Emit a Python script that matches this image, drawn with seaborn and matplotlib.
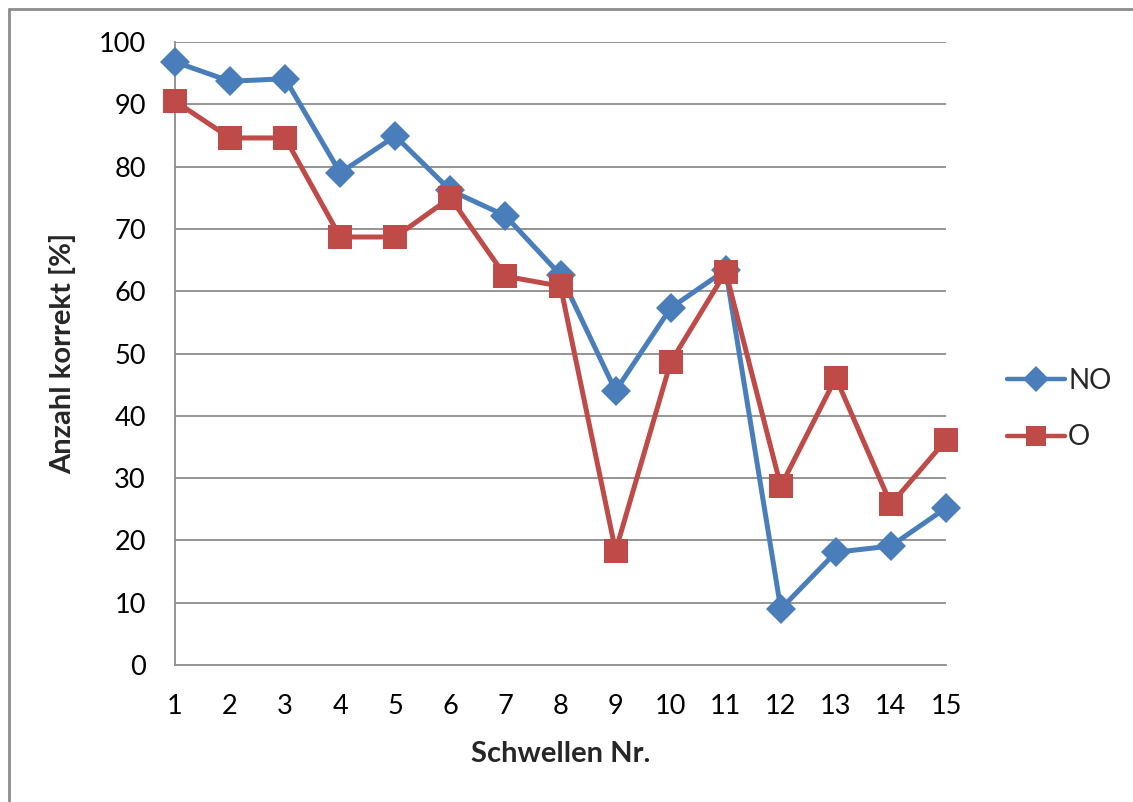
import matplotlib
matplotlib.use("Agg")
import matplotlib.pyplot as plt
import seaborn as sns
import pandas as pd
from matplotlib.lines import Line2D

schwellen = list(range(1, 16))
no_values = [96.8, 93.7, 94.1, 79.0, 84.9, 76.2, 72.1, 62.6, 44.0, 57.3, 63.4, 9.0, 18.1, 19.1, 25.2]
o_values = [90.5, 84.6, 84.6, 68.7, 68.7, 75.0, 62.4, 60.8, 18.3, 48.6, 63.1, 28.7, 46.1, 25.8, 36.1]
series_names = ["NO", "O"]
y_ticks = [0, 10, 20, 30, 40, 50, 60, 70, 80, 90, 100]

df = pd.DataFrame({
    "Schwelle": schwellen * 2,
    "Wert": no_values + o_values,
    "Serie": [series_names[0]] * len(schwellen) + [series_names[1]] * len(schwellen),
})

sns.set_theme(style="white")
plt.rcParams["font.family"] = ["Lato", "DejaVu Sans"]

W, H = 1133, 802
fig = plt.figure(figsize=(W / 100, H / 100), dpi=100)
ax = fig.add_axes([175 / W, 1 - 665 / H, (946 - 175) / W, (665 - 42) / H])

palette = {"NO": "#4A7EBB", "O": "#BE4B48"}
markers = {"NO": "D", "O": "s"}
msize = {"D": 15.5, "s": 17}
sns.lineplot(data=df, x="Schwelle", y="Wert", hue="Serie", style="Serie",
             palette=palette, markers=markers, dashes=False, linewidth=3.6,
             markersize=15, markeredgewidth=0, ax=ax, legend=False, zorder=3)
for ln in ax.lines:
    ln.set_clip_on(False)
    m = ln.get_marker()
    if m in msize:
        ln.set_markersize(msize[m])

ax.set_xlim(1, 15)
ax.set_ylim(0, 100)
ax.set_yticks(y_ticks)
ax.set_xticks(schwellen)
ax.set_xticklabels([str(s) for s in schwellen])
grid_c = "#8C8C8C"
for yv in y_ticks[1:]:
    ax.axhline(yv, color=grid_c, lw=1.3, zorder=1)
for side in ["top", "right"]:
    ax.spines[side].set_visible(False)
ax.spines["left"].set_color(grid_c)
ax.spines["bottom"].set_color(grid_c)
ax.spines["left"].set_linewidth(1.3)
ax.spines["bottom"].set_linewidth(1.3)
ax.tick_params(axis="both", which="both", direction="out", length=9, width=1.3,
               color=grid_c, labelsize=19.5, labelcolor="black")
ax.tick_params(axis="x", pad=12)
ax.tick_params(axis="y", pad=12)
ax.set_xlabel("Schwellen Nr.", fontsize=21, fontweight="bold", labelpad=16)
ax.set_ylabel("Anzahl korrekt [%]", fontsize=21, fontweight="bold", labelpad=16)

handles = [Line2D([0], [0], color=palette[n], marker=markers[n], lw=3.2,
                  markersize=msize[markers[n]] - 2, markeredgewidth=0) for n in series_names]
fig.legend(handles, series_names, loc="center left",
           bbox_to_anchor=(982 / W, 1 - 409 / H), frameon=False,
           fontsize=20, handlelength=2.1, handletextpad=0.1, labelspacing=1.1)

# figure border (top and left edges)
fig.add_artist(Line2D([9 / W, 1.0], [1 - 8.5 / H, 1 - 8.5 / H], transform=fig.transFigure,
                      color="#8C8C8C", lw=2))
fig.add_artist(Line2D([9 / W, 9 / W], [0, 1 - 8.5 / H], transform=fig.transFigure,
                      color="#8C8C8C", lw=2))

fig.savefig("out.png", dpi=100, facecolor="white")
